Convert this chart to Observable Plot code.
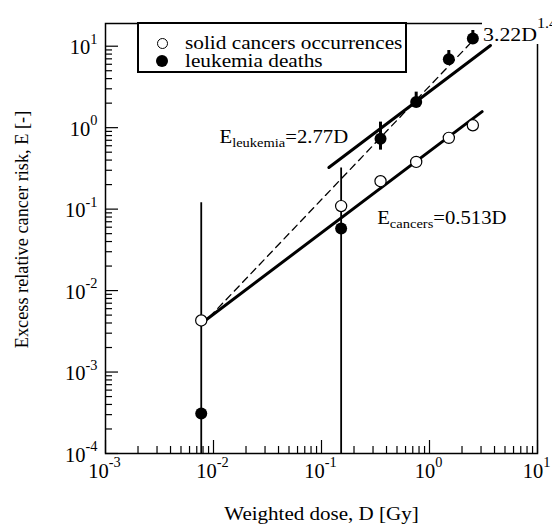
<!DOCTYPE html>
<html><head><meta charset="utf-8">
<script src="https://cdn.jsdelivr.net/npm/d3@7"></script>
<script src="https://cdn.jsdelivr.net/npm/@observablehq/plot@0.6"></script>
<style>
body{margin:0;background:#fff;}
#wrap{position:relative;width:552px;height:525px;overflow:hidden;font-family:'Liberation Serif',serif;color:#000;}
#wrap svg{position:absolute;left:0;top:0;}
#legend{position:absolute;left:137px;top:22px;width:266px;height:47px;border:2px solid #000;background:#fff;}
#legend .sym{position:absolute;box-sizing:border-box;border-radius:50%;}
#legend .lab{position:absolute;font-size:18.5px;line-height:18px;white-space:nowrap;transform:scaleX(1.15);transform-origin:0 0;}
#powlab{position:absolute;left:482px;top:4px;width:70px;height:40px;background:#fff;overflow:hidden;}
#powlab span.in{position:absolute;left:1px;top:10px;font-size:19px;line-height:19px;white-space:nowrap;transform:scaleX(1.15);transform-origin:0 0;}
</style></head><body><div id="wrap"></div>
<script>
// ---- data ----
const doses = [0.0077, 0.152, 0.352, 0.753, 1.51, 2.52];
const solidCancers = [0.0043, 0.109, 0.22, 0.38, 0.75, 1.07];
const leukemiaDeaths = [0.00031, 0.058, 0.73, 2.06, 6.9, 12.4];
const leukemiaUpper = [0.12, 0.32, 1.17, 2.73, 8.85, 15.6];
const leukemiaLower = [0.00001, 0.00001, 0.53, 1.85, 6.2, 11.0];

const cancersFitD = [0.0077, 3.07];
const cancersFitE = [0.00395, 1.575];
const leukLinFitD = [0.117, 3.67];
const leukLinFitE = [0.324, 10.2];
const leukPowFitD = [0.0077, 2.52];
const leukPowFitE = [0.0037, 11.7];

const legendLabels = ["solid cancers occurrences", "leukemia deaths"];
const annotationTexts = ["E_{leukemia}=2.77D", "E_{cancers}=0.513D"];
const annotationD = [0.01137, 0.328];
const annotationE = [0.643, 0.0653];
const powLabelMain = "3.22D";
const powLabelExp = "1.4";

const xTitle = "Weighted dose, D [Gy]";
const yTitle = "Excess relative cancer risk, E [-]";
const xMajorTicks = [1e-3, 1e-2, 1e-1, 1, 10];
const yMajorTicks = [1e-4, 1e-3, 1e-2, 1e-1, 1, 10];
const minorMultipliers = [2, 3, 4, 5, 6, 7, 8, 9];

// ---- build tables ----
const solid = doses.map((D, i) => ({D, E: solidCancers[i]}));
const leuk = doses.map((D, i) => ({D, E: leukemiaDeaths[i], lo: leukemiaLower[i], hi: leukemiaUpper[i]}));
const fit = (Ds, Es) => Ds.map((D, i) => ({D, E: Es[i]}));
const annotations = annotationTexts.map((t, i) => ({t, D: annotationD[i], E: annotationE[i]}));
const xMinor = xMajorTicks.slice(0, -1).flatMap(d => minorMultipliers.map(m => d * m));
const yMinor = yMajorTicks.slice(0, -1).flatMap(d => minorMultipliers.map(m => d * m));

const W = 552, H = 525, mL = 105, mR = 15, mT = 23, mB = 72;
const plotW = W - mL - mR, plotH = H - mT - mB;
const fmtPow = d => `10^{${Math.round(Math.log10(d))}}`;

const svg = Plot.plot({
  width: W, height: H,
  marginLeft: mL, marginRight: mR, marginTop: mT, marginBottom: mB,
  style: {fontFamily: "'Liberation Serif', serif", fontSize: "19px", background: "white", color: "black", overflow: "visible"},
  x: {type: "log", domain: [1e-3, 10], axis: null},
  y: {type: "log", domain: [1e-4, 19], axis: null},
  marks: [
    Plot.frame({stroke: "black", strokeWidth: 1.5}),
    Plot.tickX(xMinor, {x: d => d, insetTop: plotH - 7, strokeWidth: 1.2}),
    Plot.tickX(xMajorTicks, {x: d => d, insetTop: plotH - 13, strokeWidth: 1.2}),
    Plot.tickY(yMinor, {y: d => d, insetRight: plotW - 7, strokeWidth: 1.2}),
    Plot.tickY(yMajorTicks, {y: d => d, insetRight: plotW - 13, strokeWidth: 1.2}),
    Plot.text(xMajorTicks, {x: d => d, frameAnchor: "bottom", text: fmtPow, dy: 24, dx: -1, textAnchor: "middle", lineAnchor: "bottom", fontSize: 20.5}),
    Plot.text(yMajorTicks, {y: d => d, frameAnchor: "left", text: fmtPow, dx: -8, dy: 8, textAnchor: "end", lineAnchor: "bottom", fontSize: 20.5}),
    Plot.text([xTitle], {frameAnchor: "bottom", dy: 66, textAnchor: "middle", lineAnchor: "bottom", fontSize: 18.3}),
    Plot.text([yTitle], {frameAnchor: "left", rotate: -90, dx: -78, dy: -9, textAnchor: "middle", lineAnchor: "bottom", fontSize: 18.3}),
    // error bars
    Plot.ruleX(leuk.filter(d => d.lo < 1e-4), {x: "D", y1: "lo", y2: "hi", strokeWidth: 1.8, clip: true}),
    Plot.ruleX(leuk.filter(d => d.lo >= 1e-4), {x: "D", y1: "lo", y2: "hi", strokeWidth: 3}),
    // fits
    Plot.line(fit(leukPowFitD, leukPowFitE), {x: "D", y: "E", strokeWidth: 1.3, strokeDasharray: "7,5"}),
    Plot.line(fit(cancersFitD, cancersFitE), {x: "D", y: "E", strokeWidth: 3}),
    Plot.line(fit(leukLinFitD, leukLinFitE), {x: "D", y: "E", strokeWidth: 3}),
    // points
    Plot.dot(leuk, {x: "D", y: "E", r: 6, fill: "black", stroke: "none"}),
    Plot.dot(solid, {x: "D", y: "E", r: 5.6, fill: "white", stroke: "black", strokeWidth: 1.2}),
    // annotations
    Plot.text(annotations, {x: "D", y: "E", text: "t", textAnchor: "start", lineAnchor: "bottom", fontSize: 18})
  ]
});

const wrap = document.getElementById("wrap");
wrap.appendChild(svg);

// texts to be widened (the reference's serif is horizontally stretched)
const widen = new Set([xTitle, ...annotationTexts]);
const toWiden = [];
svg.querySelectorAll("text").forEach(t => { if (widen.has(t.textContent)) toWiden.push(t); });

// rich text: ^{..} superscript, _{..} subscript
const NS = "http://www.w3.org/2000/svg";
svg.querySelectorAll("text").forEach(t => {
  const s = t.textContent;
  if (!/[\^_]\{/.test(s)) return;
  const fs = parseFloat(getComputedStyle(t).fontSize);
  t.textContent = "";
  const re = /([\^_])\{([^}]*)\}|([^\^_]+)/g;
  let m, shift = 0;
  while ((m = re.exec(s))) {
    const ts = document.createElementNS(NS, "tspan");
    if (m[3] !== undefined) {
      ts.textContent = m[3];
      ts.setAttribute("dy", String(-shift));
      shift = 0;
    } else {
      const sup = m[1] === "^";
      const target = sup ? -0.5 * fs : 0.22 * fs;
      ts.setAttribute("dy", String(target - shift));
      ts.setAttribute("font-size", String((sup ? 0.7 : 0.7) * fs));
      ts.textContent = m[2];
      shift = target;
    }
    t.appendChild(ts);
  }
});
toWiden.forEach(t => {
  const L = t.getComputedTextLength();
  t.setAttribute("textLength", String(L * 1.15));
  t.setAttribute("lengthAdjust", "spacingAndGlyphs");
});

// legend
const legend = document.createElement("div");
legend.id = "legend";
const symStyles = [
  "width:11px;height:11px;border:1.2px solid #000;background:#fff;",
  "width:12px;height:12px;background:#000;"
];
const symCenters = [19, 37];
legendLabels.forEach((lab, i) => {
  const s = document.createElement("div");
  s.className = "sym";
  const d = i === 0 ? 11 : 12;
  s.style.cssText = symStyles[i] + `left:${23 - d / 2}px;top:${symCenters[i] - d / 2}px;`;
  legend.appendChild(s);
  const l = document.createElement("div");
  l.className = "lab";
  l.textContent = lab;
  l.style.left = "46px";
  l.style.top = (symCenters[i] - 9) + "px";
  legend.appendChild(l);
});
wrap.appendChild(legend);

// power-law label over the frame corner
const pl = document.createElement("div");
pl.id = "powlab";
pl.innerHTML = `<span class="in"><span>${powLabelMain}</span><span style="font-size:14px;vertical-align:13px">${powLabelExp}</span></span>`;
wrap.appendChild(pl);
</script>
</body></html>
